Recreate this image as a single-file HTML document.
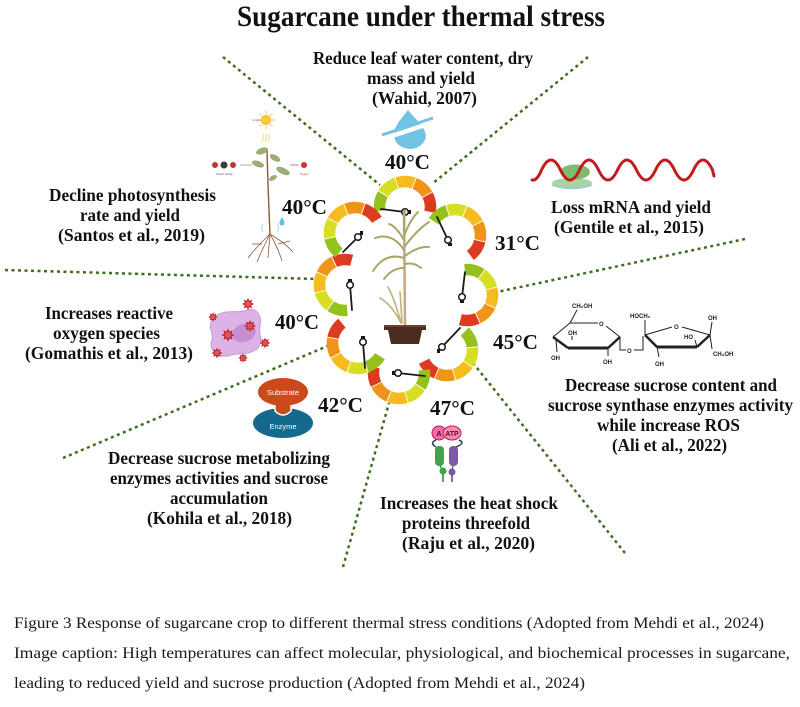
<!DOCTYPE html>
<html><head><meta charset="utf-8"><style>
html,body{margin:0;padding:0;background:#fff;}
svg{display:block;}
text{font-family:"Liberation Serif",serif;}
.b{font-weight:bold;font-size:17.5px;fill:#111;}
.t{font-weight:bold;font-size:21px;fill:#111;}
.c{font-size:16px;fill:#1a1a1a;}
.s{font-family:"Liberation Sans",sans-serif;font-weight:bold;font-size:6px;fill:#222;}
.sans{font-family:"Liberation Sans",sans-serif;}
</style></head><body>
<svg width="800" height="707" viewBox="0 0 800 707" xmlns="http://www.w3.org/2000/svg">
<defs>
<g id="lobe" fill="none" stroke-width="11.5">
<path d="M-25.11,4.43 A25.5,25.5 0 0 1 -22.08,-12.75" stroke="#95c11f"/>
<path d="M-22.08,-12.75 A25.5,25.5 0 0 1 -8.72,-23.96" stroke="#d7df23"/>
<path d="M-8.72,-23.96 A25.5,25.5 0 0 1 8.72,-23.96" stroke="#f6bb1e"/>
<path d="M8.72,-23.96 A25.5,25.5 0 0 1 22.08,-12.75" stroke="#ef9419"/>
<path d="M22.08,-12.75 A25.5,25.5 0 0 1 25.11,4.43" stroke="#dd3b1f"/>
<g stroke="#fff" stroke-width="0.9">
<line x1="-16.6" y1="-9.6" x2="-27.5" y2="-15.9"/>
<line x1="-6.6" y1="-18.1" x2="-10.9" y2="-29.9"/>
<line x1="6.6" y1="-18.1" x2="10.9" y2="-29.9"/>
<line x1="16.6" y1="-9.6" x2="27.5" y2="-15.9"/>
</g>
</g>
<g id="star">
<polygon points="6,0 3.23,1.34 4.24,4.24 1.34,3.23 0,6 -1.34,3.23 -4.24,4.24 -3.23,1.34 -6,0 -3.23,-1.34 -4.24,-4.24 -1.34,-3.23 0,-6 1.34,-3.23 4.24,-4.24 3.23,-1.34" fill="#c0262d"/>
<circle r="2.8" fill="#e2505a"/>
</g>
</defs>

<rect width="800" height="707" fill="#fff"/>

<!-- Title -->
<text x="237" y="26" font-weight="bold" font-size="30" fill="#111" textLength="368" lengthAdjust="spacingAndGlyphs">Sugarcane under thermal stress</text>

<!-- dotted lines -->
<g stroke="#3f6e1c" stroke-width="2.5" stroke-dasharray="3 3.5" fill="none">
<line x1="223" y1="57" x2="380" y2="185"/>
<line x1="588" y1="57" x2="432" y2="184"/>
<line x1="5" y1="270" x2="316" y2="279"/>
<line x1="745" y1="239" x2="497" y2="292"/>
<line x1="63" y1="458" x2="330" y2="345"/>
<line x1="343" y1="567" x2="389" y2="403"/>
<line x1="625" y1="553" x2="473" y2="363"/>
</g>

<!-- Flower lobes -->
<use href="#lobe" transform="translate(405 207) rotate(1)"/>
<use href="#lobe" transform="translate(455 235) rotate(43)"/>
<use href="#lobe" transform="translate(467 295) rotate(95)"/>
<use href="#lobe" transform="translate(447 350) rotate(144)"/>
<use href="#lobe" transform="translate(399 373) rotate(183)"/>
<use href="#lobe" transform="translate(358 343) rotate(221)"/>
<use href="#lobe" transform="translate(345 285) rotate(275)"/>
<use href="#lobe" transform="translate(355 233) rotate(319)"/>

<!-- Needles -->
<g stroke="#1a1a1a" stroke-width="1.8" stroke-linecap="round">
<line x1="405" y1="212" x2="381" y2="209"/>
<line x1="448" y1="240" x2="437" y2="217"/>
<line x1="462" y1="297" x2="465" y2="272"/>
<line x1="442" y1="347" x2="460" y2="328"/>
<line x1="398" y1="373" x2="425" y2="376"/>
<line x1="363" y1="342" x2="365" y2="368"/>
<line x1="350" y1="285" x2="352" y2="310"/>
<line x1="358" y1="237" x2="343" y2="252"/>
</g>
<g fill="#fff" stroke="#1a1a1a" stroke-width="1.5">
<circle cx="405" cy="212" r="3.3"/>
<circle cx="448" cy="240" r="3.3"/>
<circle cx="462" cy="297" r="3.3"/>
<circle cx="442" cy="347" r="3.3"/>
<circle cx="398" cy="373" r="3.3"/>
<circle cx="363" cy="342" r="3.3"/>
<circle cx="350" cy="285" r="3.3"/>
<circle cx="358" cy="237" r="3.3"/>
</g>
<g fill="#1a1a1a">
<rect x="408" y="210" width="3" height="4"/>
<rect x="448" y="243" width="4" height="3"/>
<rect x="460" y="300" width="4" height="3"/>
<rect x="437" y="349" width="3" height="4"/>
<rect x="392" y="371" width="3" height="4"/>
<rect x="361" y="336" width="4" height="3"/>
<rect x="348" y="279" width="4" height="3"/>
<rect x="360" y="231" width="3" height="4"/>
</g>

<!-- Sugarcane plant -->
<g fill="none" stroke-linecap="round">
<line x1="404" y1="211" x2="405" y2="325" stroke="#c9a88a" stroke-width="2.6"/>
<g stroke="#a9a66b" stroke-width="2">
<path d="M404,250 Q392,232 375,238"/>
<path d="M404,258 Q385,252 373,271"/>
<path d="M404,240 Q396,226 389,224"/>
<path d="M404,236 Q410,220 418,212"/>
<path d="M405,246 Q418,229 429,222"/>
<path d="M405,256 Q418,246 429,247"/>
<path d="M404,232 Q404,219 405,210"/>
<path d="M405,264 Q414,262 421,268"/>
<path d="M404,268 Q392,268 384,279"/>
</g>
<g stroke="#b9b27c" stroke-width="1.6">
<path d="M401,323 Q392,305 380,298"/>
<path d="M401,323 Q395,300 388,287"/>
<path d="M402,323 Q401,305 400,292"/>
</g>
</g>
<path d="M384,325 L426,325 L426,330 L422,330 L419,344 L391,344 L388,330 L384,330 Z" fill="#4a2c1e"/>
<rect x="384" y="325" width="42" height="2" fill="#6b4430"/>

<!-- Top text -->
<text class="b" x="313" y="64" textLength="220" lengthAdjust="spacingAndGlyphs">Reduce leaf water content, dry</text>
<text class="b" x="367" y="84" textLength="108" lengthAdjust="spacingAndGlyphs">mass and yield</text>
<text class="b" x="372" y="104" textLength="105" lengthAdjust="spacingAndGlyphs">(Wahid, 2007)</text>
<!-- water drop -->
<path d="M408,110 C402,118 394,126 394,134 A15,13 0 0 0 426,136 C425,126 414,118 408,110 Z" fill="#71c2e3"/>
<line x1="380" y1="140" x2="434" y2="122" stroke="#fff" stroke-width="4.5"/>
<line x1="382" y1="135" x2="433" y2="118" stroke="#71c2e3" stroke-width="3"/>
<text class="t" x="385" y="169" textLength="45" lengthAdjust="spacingAndGlyphs">40°C</text>

<!-- Upper left: photosynthesis -->
<text class="b" x="49" y="201" textLength="167" lengthAdjust="spacingAndGlyphs">Decline photosynthesis</text>
<text class="b" x="80" y="221" textLength="100" lengthAdjust="spacingAndGlyphs">rate and yield</text>
<text class="b" x="58" y="241" textLength="147" lengthAdjust="spacingAndGlyphs">(Santos et al., 2019)</text>
<text class="t" x="282" y="214" textLength="45" lengthAdjust="spacingAndGlyphs">40°C</text>
<g>
<g stroke="#f5c242" stroke-width="1">
<line x1="266" y1="111" x2="266" y2="113.5"/><line x1="266" y1="126.5" x2="266" y2="129"/>
<line x1="257" y1="120" x2="259.5" y2="120"/><line x1="272.5" y1="120" x2="275" y2="120"/>
<line x1="259.6" y1="113.6" x2="261.4" y2="115.4"/><line x1="270.6" y1="124.6" x2="272.4" y2="126.4"/>
<line x1="259.6" y1="126.4" x2="261.4" y2="124.6"/><line x1="270.6" y1="115.4" x2="272.4" y2="113.6"/>
</g>
<circle cx="266" cy="120" r="5.3" fill="#f8c640"/>
<g stroke="#f1d25e" stroke-width="0.8" fill="none">
<path d="M263,134 q1,2 0,4 q-1,2 0,4"/><path d="M266,134 q1,2 0,4 q-1,2 0,4"/><path d="M269,134 q1,2 0,4 q-1,2 0,4"/>
</g>
<text class="sans" x="252" y="121" font-size="2.5" fill="#a06a3a">Sunlight</text>
<path d="M267,150 Q268,190 270,234" stroke="#8b5a3c" stroke-width="1.4" fill="none"/>
<g fill="#9bb072" stroke="#6f8a4c" stroke-width="0.4">
<ellipse cx="262" cy="151" rx="6" ry="2.8" transform="rotate(-20 262 151)"/>
<ellipse cx="275" cy="158" rx="5.5" ry="2.6" transform="rotate(30 275 158)"/>
<ellipse cx="258" cy="164" rx="6" ry="2.6" transform="rotate(20 258 164)"/>
<ellipse cx="283" cy="171" rx="7" ry="2.8" transform="rotate(25 283 171)"/>
<ellipse cx="273" cy="178" rx="4" ry="2" transform="rotate(-30 273 178)"/>
</g>
<g stroke="#8b5a3c" stroke-width="0.8" fill="none">
<path d="M270,234 Q258,245 248,258"/><path d="M270,234 Q262,250 257,262"/>
<path d="M270,234 Q278,248 282,261"/><path d="M270,234 Q284,242 293,252"/>
<path d="M262,244 L252,244"/><path d="M278,244 L290,241"/><path d="M270,234 L268,258"/>
</g>
<path d="M263,224 q-3,4 0,8 M277,224 q3,4 0,8" stroke="#9fcbe6" stroke-width="0.8" fill="none"/>
<path d="M282,217 C280,220 279.5,222 279.5,223 A2.5,2.5 0 0 0 284.5,223 C284.5,222 284,220 282,217 Z" fill="#6fb8df"/>
<circle cx="215" cy="165" r="3" fill="#c0392b"/>
<circle cx="224" cy="165" r="3.5" fill="#3a3a3a"/>
<circle cx="233" cy="165" r="3" fill="#c0392b"/>
<line x1="240" y1="165" x2="252" y2="165" stroke="#999" stroke-width="0.8"/>
<line x1="290" y1="165" x2="299" y2="165" stroke="#d06060" stroke-width="0.8"/>
<circle cx="304" cy="165" r="3" fill="#c0392b"/>
<text class="sans" x="216" y="175" font-size="2.5" fill="#555">Carbon dioxide</text>
<text class="sans" x="300" y="175" font-size="2.5" fill="#c33">Oxygen</text>
</g>

<!-- Upper right: mRNA -->
<ellipse cx="572" cy="183" rx="20" ry="5" fill="#a9d3a0"/>
<path d="M552,185 Q572,192 592,185" stroke="#9cc9d8" stroke-width="1.5" fill="none"/>
<ellipse cx="575" cy="172" rx="15" ry="7.5" fill="#7dbb6e"/>
<path d="M532,180 Q537,181 541.5,170 Q551,150 560.5,170 T579.5,170 T598.5,170 T617.5,170 T636.5,170 T655.5,170 T674.5,170 T693.5,170 T712.5,170 L714,176" stroke="#c41a1f" stroke-width="3" fill="none" stroke-linecap="round"/>
<text class="b" x="551" y="213" textLength="160" lengthAdjust="spacingAndGlyphs">Loss mRNA and yield</text>
<text class="b" x="554" y="233" textLength="150" lengthAdjust="spacingAndGlyphs">(Gentile et al., 2015)</text>
<text class="t" x="495" y="250" textLength="45" lengthAdjust="spacingAndGlyphs">31°C</text>

<!-- Left: ROS -->
<text class="b" x="45" y="319" textLength="128" lengthAdjust="spacingAndGlyphs">Increases reactive</text>
<text class="b" x="53" y="339" textLength="107" lengthAdjust="spacingAndGlyphs">oxygen species</text>
<text class="b" x="25" y="359" textLength="168" lengthAdjust="spacingAndGlyphs">(Gomathis et al., 2013)</text>
<text class="t" x="275" y="329" textLength="44" lengthAdjust="spacingAndGlyphs">40°C</text>
<path d="M214,318 C222,308 238,314 248,310 C258,307 262,318 260,326 C258,334 264,340 258,348 C250,356 236,352 228,356 C216,358 208,348 212,340 C214,332 206,326 214,318 Z" fill="#dcb3e6" stroke="#c79bd6" stroke-width="1"/>
<ellipse cx="244" cy="333" rx="12" ry="9" fill="#c58fd4" transform="rotate(-20 244 333)"/>
<use href="#star" transform="translate(248 304)"/>
<use href="#star" transform="translate(213 317) scale(0.8)"/>
<use href="#star" transform="translate(250 326)"/>
<use href="#star" transform="translate(228 335) scale(1.1)"/>
<use href="#star" transform="translate(265 343) scale(0.9)"/>
<use href="#star" transform="translate(217 353) scale(0.9)"/>
<use href="#star" transform="translate(243 358) scale(0.8)"/>

<!-- Enzyme -->
<ellipse cx="283" cy="423" rx="30" ry="15" fill="#15698c"/>
<path d="M275,400 L275,411 Q283,419 291,411 L291,400 Z" fill="#cb4a1c" stroke="#fff" stroke-width="1.5"/>
<ellipse cx="283" cy="392" rx="25" ry="14" fill="#cb4a1c"/>
<path d="M276,398 L276,410 Q283,417 290,410 L290,398 Z" fill="#cb4a1c"/>
<text class="sans" x="283" y="395" font-size="7.5" fill="#fff" text-anchor="middle">Substrate</text>
<text class="sans" x="283" y="429" font-size="7.5" fill="#fff" text-anchor="middle">Enzyme</text>
<text class="t" x="318" y="412" textLength="45" lengthAdjust="spacingAndGlyphs">42°C</text>

<text class="b" x="108" y="464" textLength="222" lengthAdjust="spacingAndGlyphs">Decrease sucrose metabolizing</text>
<text class="b" x="110" y="484" textLength="218" lengthAdjust="spacingAndGlyphs">enzymes activities and sucrose</text>
<text class="b" x="170" y="504" textLength="98" lengthAdjust="spacingAndGlyphs">accumulation</text>
<text class="b" x="147" y="524" textLength="145" lengthAdjust="spacingAndGlyphs">(Kohila et al., 2018)</text>

<!-- Right: sucrose -->
<text class="t" x="493" y="349" textLength="45" lengthAdjust="spacingAndGlyphs">45°C</text>
<g stroke="#222" fill="none" stroke-width="1">
<line x1="553" y1="337" x2="570" y2="323"/>
<line x1="570" y1="323" x2="598" y2="323"/>
<line x1="606" y1="326" x2="620" y2="337"/>
<line x1="620" y1="337" x2="608" y2="348" stroke-width="2.5"/>
<line x1="608" y1="348" x2="568" y2="348" stroke-width="3"/>
<line x1="568" y1="348" x2="553" y2="337" stroke-width="2.5"/>
<line x1="570" y1="323" x2="577" y2="310"/>
<line x1="572" y1="340" x2="572" y2="336"/>
<line x1="556" y1="340" x2="557" y2="352"/>
<line x1="608" y1="348" x2="608" y2="356"/>
<polyline points="620,337 620,350 626,350"/>
<polyline points="634,350 643,350 643,336"/>
<line x1="645" y1="335" x2="672" y2="327"/>
<line x1="682" y1="327" x2="710" y2="335"/>
<line x1="710" y1="335" x2="697" y2="347" stroke-width="2.5"/>
<line x1="697" y1="347" x2="657" y2="347" stroke-width="3"/>
<line x1="657" y1="347" x2="645" y2="335" stroke-width="2.5"/>
<line x1="645" y1="335" x2="645" y2="320"/>
<line x1="710" y1="335" x2="712" y2="322"/>
<line x1="697" y1="347" x2="695" y2="340"/>
<line x1="710" y1="335" x2="712" y2="349"/>
<line x1="657" y1="347" x2="659" y2="357"/>
</g>
<text class="s" x="572" y="308">CH₂OH</text>
<text class="s" x="599" y="326">O</text>
<text class="s" x="568" y="335">OH</text>
<text class="s" x="551" y="360">OH</text>
<text class="s" x="603" y="364">OH</text>
<text class="s" x="627" y="353">O</text>
<text class="s" x="630" y="318">HOCH₂</text>
<text class="s" x="674" y="329">O</text>
<text class="s" x="708" y="320">OH</text>
<text class="s" x="684" y="339">HO</text>
<text class="s" x="713" y="356">CH₂OH</text>
<text class="s" x="655" y="366">OH</text>

<text class="b" x="565" y="391" textLength="212" lengthAdjust="spacingAndGlyphs">Decrease sucrose content and</text>
<text class="b" x="548" y="411" textLength="245" lengthAdjust="spacingAndGlyphs">sucrose synthase enzymes activity</text>
<text class="b" x="597" y="431" textLength="143" lengthAdjust="spacingAndGlyphs">while increase ROS</text>
<text class="b" x="612" y="451" textLength="115" lengthAdjust="spacingAndGlyphs">(Ali et al., 2022)</text>

<!-- Bottom: HSP -->
<text class="t" x="430" y="415" textLength="45" lengthAdjust="spacingAndGlyphs">47°C</text>
<path d="M436,440 Q429,443 436,447" stroke="#2c3e50" stroke-width="1.5" fill="none"/>
<path d="M459,440 Q466,443 456,447" stroke="#2c3e50" stroke-width="1.5" fill="none"/>
<ellipse cx="439" cy="433" rx="7" ry="7" fill="#f06ea5" stroke="#c2185b" stroke-width="1"/>
<ellipse cx="452" cy="433" rx="9" ry="7" fill="#f48bb5" stroke="#c2185b" stroke-width="1"/>
<text class="sans" x="439" y="436" font-size="7.5" font-weight="bold" fill="#5a0b2a" text-anchor="middle">A</text>
<text class="sans" x="452" y="436" font-size="7" font-weight="bold" fill="#5a0b2a" text-anchor="middle">ATP</text>
<rect x="435" y="446" width="9" height="20" rx="4" fill="#3ea34a"/>
<rect x="449" y="446" width="9" height="20" rx="4" fill="#7d5aa3"/>
<line x1="440" y1="466" x2="443" y2="470" stroke="#2e7d32" stroke-width="1.2"/>
<line x1="453" y1="466" x2="452" y2="470" stroke="#5e3c87" stroke-width="1.2"/>
<circle cx="443" cy="471" r="3.5" fill="#3ea34a"/>
<circle cx="452" cy="472" r="3.5" fill="#7d5aa3"/>
<line x1="443" y1="474" x2="443" y2="482" stroke="#2e7d32" stroke-width="1.5"/>
<line x1="452" y1="475" x2="452" y2="482" stroke="#5e3c87" stroke-width="1.5"/>

<text class="b" x="380" y="509" textLength="178" lengthAdjust="spacingAndGlyphs">Increases the heat shock</text>
<text class="b" x="402" y="529" textLength="128" lengthAdjust="spacingAndGlyphs">proteins threefold</text>
<text class="b" x="402" y="549" textLength="133" lengthAdjust="spacingAndGlyphs">(Raju et al., 2020)</text>

<!-- Caption -->
<text class="c" x="14" y="628" textLength="750" lengthAdjust="spacingAndGlyphs">Figure 3 Response of sugarcane crop to different thermal stress conditions (Adopted from Mehdi et al., 2024)</text>
<text class="c" x="14" y="658" textLength="776" lengthAdjust="spacingAndGlyphs">Image caption: High temperatures can affect molecular, physiological, and biochemical processes in sugarcane,</text>
<text class="c" x="14" y="688" textLength="571" lengthAdjust="spacingAndGlyphs">leading to reduced yield and sucrose production (Adopted from Mehdi et al., 2024)</text>
</svg>
</body></html>
